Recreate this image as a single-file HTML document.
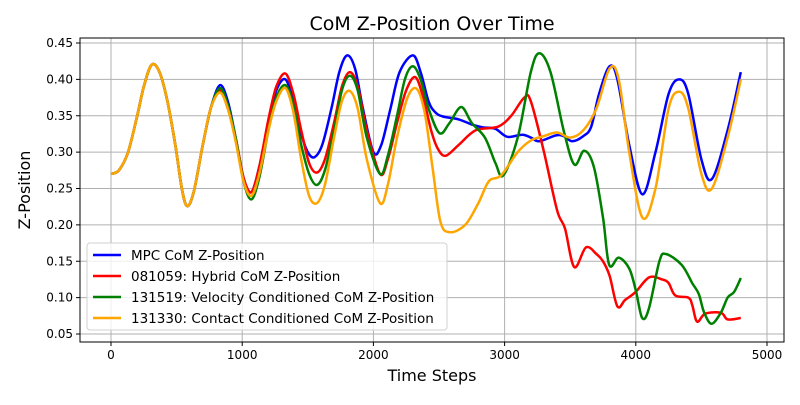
<!DOCTYPE html>
<html><head><meta charset="utf-8">
<style>
body{margin:0;background:#fff;font-family:"Liberation Sans","DejaVu Sans",sans-serif;}
svg text{font-family:"DejaVu Sans","Liberation Sans",sans-serif;}
</style></head>
<body>
<svg id="chart" width="800" height="400" viewBox="0 0 800 400" xmlns="http://www.w3.org/2000/svg">
<rect width="800" height="400" fill="#fff"/>
<g id="grid"></g>
<g id="series"></g>
<rect x="80" y="38" width="704" height="304" fill="none" stroke="#000" stroke-width="1"/>
<g id="axes"></g>
<text x="432" y="30" font-size="19" text-anchor="middle">CoM Z-Position Over Time</text>
<text x="432" y="381" font-size="16" text-anchor="middle">Time Steps</text>
<text x="30" y="190" font-size="16" text-anchor="middle" transform="rotate(-90 30 190)">Z-Position</text>
<g id="legend"></g>
</svg>
<script>
const xTicks=[0,1000,2000,3000,4000,5000];
const yTicks=[0.05,0.10,0.15,0.20,0.25,0.30,0.35,0.40,0.45];
const seriesNames=["MPC CoM Z-Position","081059: Hybrid CoM Z-Position","131519: Velocity Conditioned CoM Z-Position","131330: Contact Conditioned CoM Z-Position"];
const seriesColors=["#0000ff","#ff0000","#008000","#ffa500"];
const common=[[0,0.27],[60,0.275],[130,0.30],[200,0.35],[250,0.39],[310,0.42],[370,0.41],[430,0.37],[490,0.31],[540,0.25],[580,0.226],[630,0.245],[700,0.31],[760,0.36]];
const mpcData=[[830,0.392],[890,0.37],[950,0.32],[1010,0.265],[1070,0.245],[1130,0.28],[1200,0.34],[1260,0.385],[1330,0.40],[1390,0.37],[1450,0.325],[1500,0.30],[1550,0.293],[1610,0.31],[1680,0.36],[1740,0.41],[1800,0.433],[1860,0.415],[1920,0.36],[2000,0.30],[2060,0.31],[2130,0.36],[2200,0.41],[2300,0.433],[2360,0.41],[2420,0.37],[2470,0.355],[2530,0.349],[2650,0.345],[2750,0.338],[2833,0.334],[2930,0.332],[3021,0.321],[3135,0.324],[3200,0.32],[3265,0.315],[3392,0.323],[3450,0.322],[3516,0.315],[3600,0.322],[3660,0.335],[3720,0.38],[3800,0.418],[3860,0.40],[3950,0.31],[4050,0.242],[4150,0.30],[4250,0.38],[4330,0.40],[4400,0.38],[4500,0.29],[4580,0.263],[4700,0.33],[4800,0.41]];
const hybridData=[[830,0.385],[890,0.36],[950,0.32],[1010,0.265],[1070,0.245],[1130,0.28],[1200,0.345],[1260,0.39],[1330,0.408],[1390,0.38],[1450,0.33],[1510,0.285],[1570,0.272],[1630,0.29],[1700,0.34],[1760,0.39],[1820,0.41],[1880,0.39],[1950,0.33],[2050,0.27],[2110,0.29],[2180,0.34],[2250,0.385],[2320,0.403],[2380,0.375],[2440,0.33],[2490,0.305],[2550,0.295],[2650,0.31],[2780,0.33],[2950,0.335],[3050,0.35],[3150,0.375],[3200,0.37],[3300,0.30],[3400,0.22],[3460,0.195],[3531,0.142],[3620,0.169],[3700,0.16],[3750,0.15],[3800,0.13],[3860,0.088],[3920,0.097],[4000,0.108],[4102,0.128],[4200,0.125],[4250,0.12],[4300,0.103],[4400,0.10],[4430,0.09],[4467,0.067],[4530,0.078],[4650,0.079],[4700,0.07],[4800,0.072]];
const velocityData=[[830,0.388],[890,0.365],[950,0.32],[1010,0.26],[1070,0.235],[1130,0.265],[1200,0.33],[1260,0.375],[1330,0.392],[1390,0.365],[1450,0.31],[1510,0.27],[1570,0.255],[1630,0.275],[1700,0.33],[1760,0.385],[1820,0.405],[1880,0.385],[1950,0.32],[2050,0.27],[2110,0.295],[2180,0.35],[2240,0.40],[2300,0.418],[2360,0.40],[2420,0.36],[2504,0.326],[2580,0.34],[2669,0.362],[2750,0.34],[2850,0.32],[2930,0.285],[2990,0.268],[3100,0.32],[3200,0.41],[3265,0.436],[3350,0.41],[3450,0.33],[3531,0.283],[3607,0.302],[3680,0.28],[3750,0.21],[3797,0.145],[3870,0.155],[3950,0.14],[4000,0.11],[4049,0.072],[4100,0.085],[4180,0.15],[4229,0.16],[4350,0.145],[4430,0.12],[4480,0.105],[4520,0.08],[4578,0.064],[4650,0.08],[4700,0.10],[4750,0.108],[4800,0.127]];
const contactData=[[830,0.382],[890,0.36],[950,0.315],[1010,0.26],[1070,0.24],[1130,0.27],[1200,0.33],[1260,0.37],[1330,0.388],[1390,0.355],[1450,0.29],[1510,0.24],[1570,0.23],[1630,0.255],[1700,0.32],[1760,0.37],[1820,0.384],[1880,0.36],[1950,0.29],[2050,0.23],[2110,0.255],[2180,0.32],[2260,0.375],[2330,0.387],[2390,0.355],[2450,0.28],[2510,0.205],[2580,0.19],[2700,0.20],[2800,0.23],[2880,0.26],[2973,0.268],[3100,0.30],[3200,0.316],[3300,0.322],[3400,0.327],[3500,0.32],[3600,0.33],[3700,0.36],[3800,0.415],[3870,0.40],[3950,0.30],[4050,0.21],[4150,0.25],[4250,0.36],[4330,0.383],[4400,0.36],[4500,0.27],[4580,0.25],[4700,0.32],[4800,0.40]];
const allData=[mpcData,hybridData,velocityData,contactData];

const NS="http://www.w3.org/2000/svg";
function xs(t){return 111+t*(767-111)/5000;}
function ys(v){return 334-(v-0.05)*(334-43)/0.4;}
function mk(tag,attrs,parent){const e=document.createElementNS(NS,tag);for(const k in attrs)e.setAttribute(k,attrs[k]);parent.appendChild(e);return e;}
const grid=document.getElementById('grid'),axes=document.getElementById('axes');
xTicks.forEach(t=>{
  const x=xs(t);
  const g=mk('line',{x1:x,x2:x,y1:38,y2:342,stroke:'#b0b0b0','stroke-width':1},grid);
  
  
  const tk=mk('line',{x1:x,x2:x,y1:342,y2:346,stroke:'#000'},axes);
  
  
  const lb=mk('text',{x:x,y:359,'font-size':12,'text-anchor':'middle'},axes);
  lb.textContent=t;
  
  
});
yTicks.forEach(v=>{
  const y=ys(v);
  const g=mk('line',{x1:80,x2:784,y1:y,y2:y,stroke:'#b0b0b0','stroke-width':1},grid);
  
  
  const tk=mk('line',{x1:76,x2:80,y1:y,y2:y,stroke:'#000'},axes);
  
  
  const lb=mk('text',{x:73,y:y+4,'font-size':12,'text-anchor':'end'},axes);
  lb.textContent=v.toFixed(2);
  
  
});
function pathFor(pts){
  const p=pts.map(d=>[xs(d[0]),ys(d[1])]);
  let s='M'+p[0][0].toFixed(1)+','+p[0][1].toFixed(1);
  for(let i=0;i<p.length-1;i++){
    const p0=p[Math.max(0,i-1)],p1=p[i],p2=p[i+1],p3=p[Math.min(p.length-1,i+2)];
    const c1=[p1[0]+(p2[0]-p0[0])/6,p1[1]+(p2[1]-p0[1])/6];
    const c2=[p2[0]-(p3[0]-p1[0])/6,p2[1]-(p3[1]-p1[1])/6];
    s+='C'+c1[0].toFixed(1)+','+c1[1].toFixed(1)+' '+c2[0].toFixed(1)+','+c2[1].toFixed(1)+' '+p2[0].toFixed(1)+','+p2[1].toFixed(1);
  }
  return s;
}
const sg=document.getElementById('series');
const keys=['mpc','hybrid','velocity','contact'];
allData.forEach((d,i)=>{
  const pl=mk('path',{d:pathFor(common.concat(d)),fill:'none',stroke:seriesColors[i],'stroke-width':2.5,'stroke-linejoin':'round'},sg);
  
  
});
const lg=document.getElementById('legend');
const box=mk('rect',{x:87,y:243,width:360,height:87,rx:3,fill:'#fff','fill-opacity':0.8,stroke:'#d0d0d0'},lg);


seriesNames.forEach((n,i)=>{
  const y=255+i*21;
  const ln=mk('line',{x1:93,x2:121,y1:y,y2:y,stroke:seriesColors[i],'stroke-width':2.5},lg);
  
  
  const t=mk('text',{x:131,y:y+5,'font-size':13.5},lg);
  t.textContent=n;
  
  
});
</script>
</body></html>
